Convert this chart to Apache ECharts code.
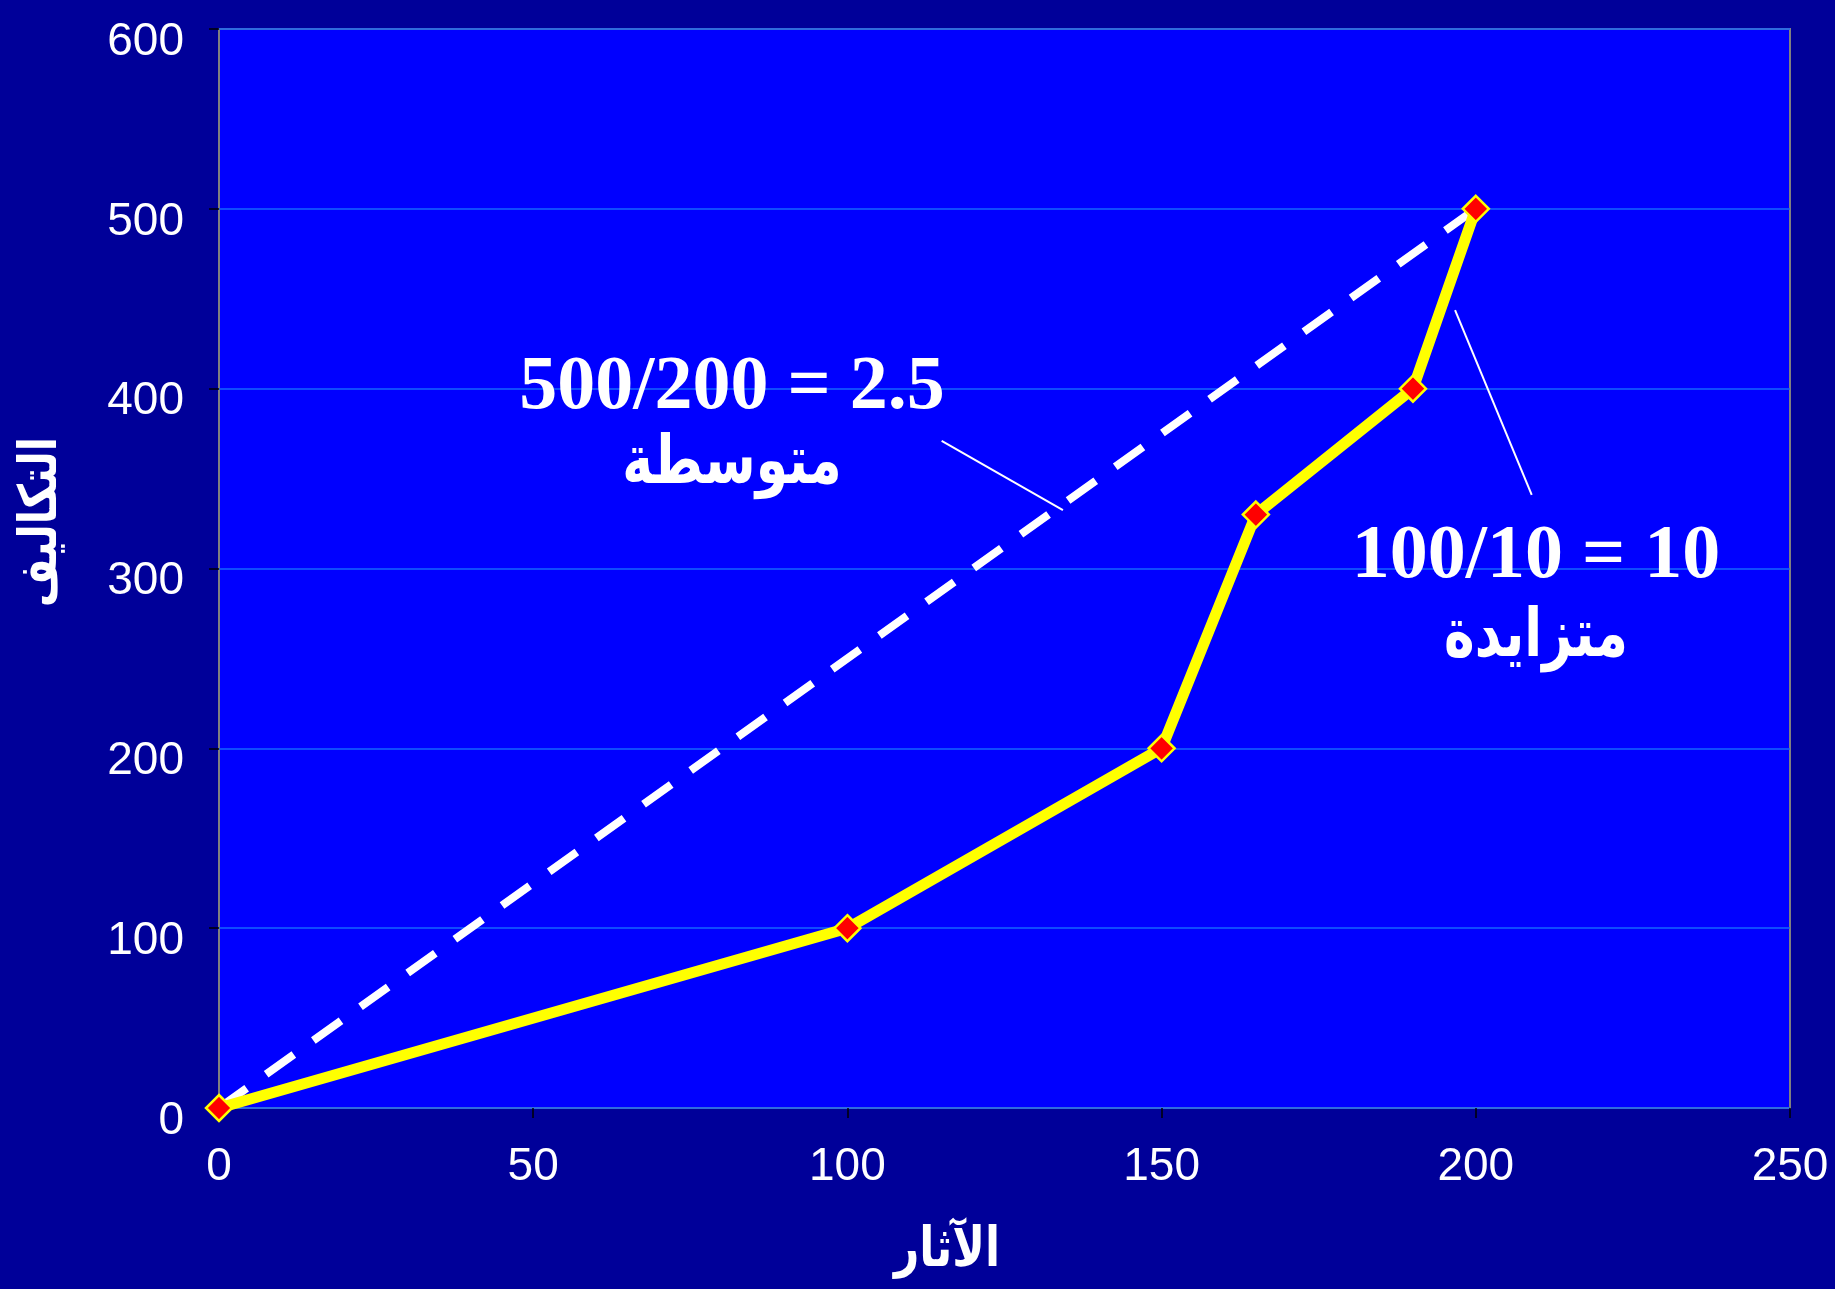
<!DOCTYPE html>
<html>
<head>
<meta charset="utf-8">
<script src="https://cdn.jsdelivr.net/npm/echarts@6/dist/echarts.min.js"></script>
<style>
html,body{margin:0;padding:0;background:#000099;}
#chart{width:1835px;height:1289px;}
</style>
</head>
<body>
<div id="chart"></div>
<script>
// Data
const costX = [0, 100, 150, 165, 190, 200];
const costY = [0, 100, 200, 330, 400, 500];
const avgX = [0, 200];
const avgY = [0, 500];
const leader1X = [115, 134.3];
const leader1Y = [371, 332.5];
const leader2X = [196.7, 208.9];
const leader2Y = [443.7, 340.9];
const xTickLabels = ['0', '50', '100', '150', '200', '250'];
const yTickLabels = ['0', '100', '200', '300', '400', '500', '600'];
const xTitle = 'الآثار';
const yTitle = 'التكاليف';
const note1a = '500/200 = 2.5';
const note1b = 'متوسطة';
const note2a = '100/10 = 10';
const note2b = 'متزايدة';

const zip = (a, b) => a.map((v, i) => [v, b[i]]);

const chart = echarts.init(document.getElementById('chart'), null, {renderer: 'canvas'});
const labelFont = {color: '#ffffff', fontSize: 46, fontFamily: '"Liberation Sans", Arial, sans-serif'};
const arabicFont = '"DejaVu Sans", "Noto Sans", sans-serif';
const serifFont = '"Liberation Serif", "Times New Roman", serif';

chart.setOption({
  backgroundColor: '#000099',
  animation: false,
  grid: {left: 219, right: 45, top: 29, bottom: 181, show: true, backgroundColor: '#0000FF', borderColor: '#808080', borderWidth: 2},
  xAxis: {
    type: 'value', min: 0, max: 250, interval: 50,
    axisLine: {show: false},
    axisTick: {show: true, length: 10, inside: false, lineStyle: {color: '#000000', width: 1.5}},
    splitLine: {show: false},
    axisLabel: Object.assign({margin: 36, formatter: v => xTickLabels[Math.round(v / 50)]}, labelFont)
  },
  yAxis: {
    type: 'value', min: 0, max: 600, interval: 100,
    axisLine: {show: false},
    axisTick: {show: true, length: 10, inside: false, lineStyle: {color: '#000000', width: 1.5}},
    splitLine: {show: true, lineStyle: {color: '#1466FF', width: 1.5}},
    axisLabel: Object.assign({margin: 35, verticalAlign: 'top', lineHeight: 26, formatter: v => yTickLabels[Math.round(v / 100)]}, labelFont)
  },
  series: [
    {
      type: 'line', data: zip(avgX, avgY), z: 2, symbol: 'none', silent: true,
      lineStyle: {color: '#ffffff', width: 8, type: [34, 24], cap: 'butt'}
    },
    {
      type: 'line', data: zip(costX, costY), z: 3,
      symbol: 'diamond', symbolSize: 26,
      lineStyle: {color: '#FFFF00', width: 11},
      itemStyle: {color: '#FF0000', borderColor: '#FFFF00', borderWidth: 2.5}
    },
    {
      type: 'line', data: zip(leader1X, leader1Y), z: 4, symbol: 'none', silent: true,
      lineStyle: {color: '#ffffff', width: 2}
    },
    {
      type: 'line', data: zip(leader2X, leader2Y), z: 4, symbol: 'none', silent: true,
      lineStyle: {color: '#ffffff', width: 2}
    }
  ],
  graphic: [
    {type: 'text', x: 732, y: 388, z: 10, style: {text: note1a, font: 'bold 76px ' + serifFont, fill: '#ffffff', align: 'center', verticalAlign: 'middle'}},
    {type: 'text', x: 732, y: 465, z: 10, scaleY: 1.3, style: {text: note1b, font: 'bold 52px ' + arabicFont, fill: '#ffffff', align: 'center', verticalAlign: 'middle'}},
    {type: 'text', x: 1536, y: 557, z: 10, style: {text: note2a, font: 'bold 76px ' + serifFont, fill: '#ffffff', align: 'center', verticalAlign: 'middle'}},
    {type: 'text', x: 1536, y: 638, z: 10, scaleY: 1.3, style: {text: note2b, font: 'bold 52px ' + arabicFont, fill: '#ffffff', align: 'center', verticalAlign: 'middle'}},
    {type: 'text', x: 947, y: 1252, z: 10, scaleY: 1.25, style: {text: xTitle, font: 'bold 44px ' + arabicFont, fill: '#ffffff', align: 'center', verticalAlign: 'middle'}},
    {type: 'text', x: 42, y: 522, rotation: Math.PI / 2, scaleY: 1.25, z: 10, style: {text: yTitle, font: 'bold 42px ' + arabicFont, fill: '#ffffff', align: 'center', verticalAlign: 'middle'}}
  ]
});
</script>
</body>
</html>
